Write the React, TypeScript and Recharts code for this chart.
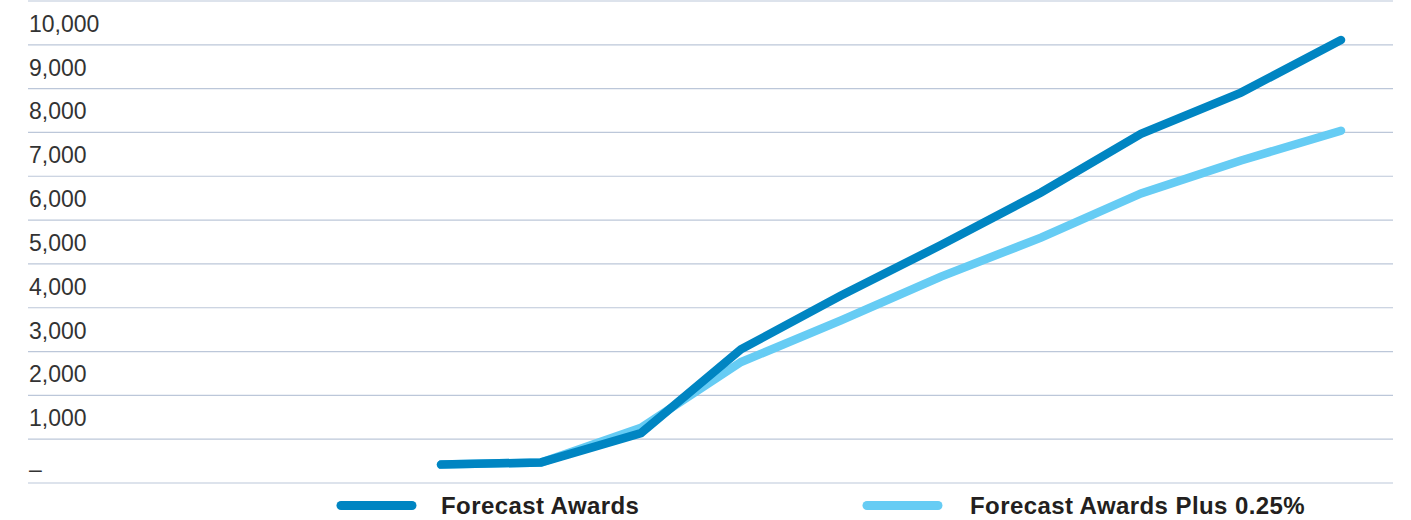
import React from 'react';
import { LineChart, Line, XAxis, YAxis, CartesianGrid } from 'recharts';

// Periods along the x axis (no labels are shown in the chart)
const periods = ['P1', 'P2', 'P3', 'P4', 'P5', 'P6', 'P7', 'P8', 'P9', 'P10', 'P11', 'P12', 'P13', 'P14'];

// Values; the first four periods have no data
const forecastAwards = [null, null, null, null, 420, 470, 1140, 3050, 4280, 5430, 6630, 7970, 8910, 10110];
const forecastAwardsPlus = [null, null, null, null, 420, 470, 1260, 2760, 3710, 4710, 5600, 6610, 7360, 8040];

const yTicks = [0, 1000, 2000, 3000, 4000, 5000, 6000, 7000, 8000, 9000, 10000, 11000];

const series = [
  { key: 'plus', name: 'Forecast Awards Plus 0.25%', color: '#66CCF4', values: forecastAwardsPlus },
  { key: 'awards', name: 'Forecast Awards', color: '#0085C2', values: forecastAwards },
];

// legend is listed left to right
const legendOrder = ['awards', 'plus'];

const data = periods.map((period, i) => ({
  period,
  awards: forecastAwards[i],
  plus: forecastAwardsPlus[i],
}));

const FONT = '"Liberation Sans", Arial, Helvetica, sans-serif';

const YTick = (props: any) => {
  const { y, payload } = props;
  const v = payload.value as number;
  if (v === 11000) return <g />;
  const label = v === 0 ? '–' : v.toLocaleString('en-US');
  return (
    <text x={29} y={v === 0 ? y - 6 : y - 13} fontSize={23} fill="#333333" fontFamily={FONT}>
      {label}
    </text>
  );
};

const Legend = () => {
  const iconStarts = [337, 863];
  const textStarts = [441, 970];
  return (
    <svg width={1411} height={40} style={{ position: 'absolute', left: 0, top: 485 }}>
      {legendOrder.map((k, i) => {
        const s = series.find((d) => d.key === k)!;
        const x0 = iconStarts[i];
        return (
          <g key={k}>
            <line x1={x0 + 4} x2={x0 + 75} y1={20.5} y2={20.5} stroke={s.color} strokeWidth={9} strokeLinecap="round" />
            <text
              x={textStarts[i]}
              y={29}
              fontSize={24}
              fontWeight="bold"
              fill="#231f20"
              fontFamily={FONT}
              letterSpacing={0.42}
            >
              {s.name}
            </text>
          </g>
        );
      })}
    </svg>
  );
};

export default function App() {
  return (
    <div style={{ position: 'relative', width: 1411, height: 520, background: '#fff' }}>
      <style>{`body{margin:0}`}</style>
      <LineChart width={1411} height={520} data={data} margin={{ top: 1, right: 18, bottom: 37, left: 0 }}>
        <CartesianGrid vertical={false} stroke="#bcc7d9" strokeWidth={1.2} />
        <XAxis dataKey="period" hide padding={{ left: 13, right: 52 }} />
        <YAxis
          domain={[0, 11000]}
          ticks={yTicks}
          interval={0}
          axisLine={false}
          tickLine={false}
          width={28}
          tick={<YTick />}
        />
        {series.map((s) => (
          <Line
            key={s.key}
            dataKey={s.key}
            name={s.name}
            stroke={s.color}
            strokeWidth={8.5}
            strokeLinecap="round"
            dot={false}
            activeDot={false}
            isAnimationActive={false}
            type="linear"
          />
        ))}
      </LineChart>
      <Legend />
    </div>
  );
}
